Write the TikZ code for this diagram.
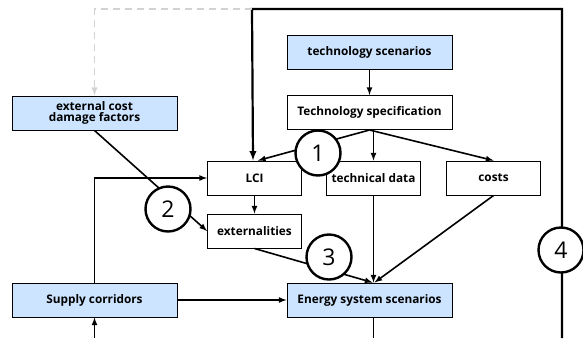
\documentclass[tikz,border=0pt]{standalone}
\usepackage{fontspec}
\setmainfont{Open Sans}
\usetikzlibrary{arrows}
\definecolor{boxblue}{RGB}{204,228,255}
\definecolor{dashgray}{RGB}{210,210,210}

\begin{document}
\begin{tikzpicture}[x=1pt, y=-1pt, >=latex,
    box/.style={draw, line width=1pt, minimum height=34pt, inner sep=2pt, align=center,
        font=\fontsize{11.8}{13}\selectfont\bfseries},
    widebox/.style={box, minimum width=165pt},
    smallbox/.style={box, minimum width=94pt},
    scen/.style={widebox, fill=boxblue},
    num/.style={circle, draw, line width=2.4pt, fill=white, minimum size=45pt, inner sep=0pt,
        font=\fontsize{23}{23}\selectfont},
    link/.style={->, line width=1.6pt},
    loop/.style={line width=2.2pt}]
    \useasboundingbox (0, 0) rectangle (583, 338);

    \node [scen] (techscen) at (369.5, 52) {technology scenarios};
    \node [widebox] (techspec) at (369.5, 112.5) {Technology specification};
    \node [scen] (damage) at (94.5, 113) {external cost\\[-2pt]damage factors};
    \node [smallbox] (lci) at (254.5, 178) {LCI};
    \node [smallbox] (techdata) at (373.5, 178) {technical data};
    \node [smallbox] (costs) at (493.5, 178) {costs};
    \node [smallbox] (extern) at (254.5, 231) {externalities};
    \node [scen] (supply) at (94.5, 300) {Supply corridors};
    \node [scen] (energy) at (369.5, 300) {Energy system scenarios};

    \coordinate (loopbot) at (562, 338);
    \coordinate (looptop) at (562, 9);
    \coordinate (loopleft) at (252, 9);
    \coordinate (dashleft) at (94.5, 9);
    \coordinate (supplyin) at (94.5, 338);
    \coordinate (energyout) at (373.5, 338);

    \draw [link] (techscen) -- (techspec);
    \draw [link] (techspec.south) -- ([xshift=3.5pt]lci.north);
    \draw [link] (techdata.north |- techspec.south) -- (techdata.north);
    \draw [link] (techspec.south) -- (costs.north);
    \draw [link] (lci) -- (extern);
    \draw [link] (damage.south) -- (extern.west);
    \draw [link] (techdata.south) -- (techdata.south |- energy.north);
    \draw [link] (costs.south) -- ([xshift=5pt]energy.north);
    \draw [link] (extern.south) -- ([xshift=3pt]energy.north);
    \draw [link] (supply.north) |- (lci.west);
    \draw [link] (supply) -- (energy);
    \draw [link] (supplyin) -- (supply);
    \draw [line width=1.6pt] (energyout |- energy.south) -- (energyout);

    % feedback loop
    \draw [loop, ->] (loopbot) -- (looptop) -- (loopleft) -- ([xshift=-1.5pt]lci.north);
    \draw [->, dashgray, dashed, dash pattern=on 7pt off 5pt, line width=1.8pt] (loopleft) -- (dashleft) -- (damage.north);

    \node [num] (one) at (318, 153) {1};
    \node [num] (two) at (168, 209) {2};
    \node [num] (three) at (329, 257) {3};
    \node [num] (four) at (561, 250) {4};
\end{tikzpicture}
\end{document}
